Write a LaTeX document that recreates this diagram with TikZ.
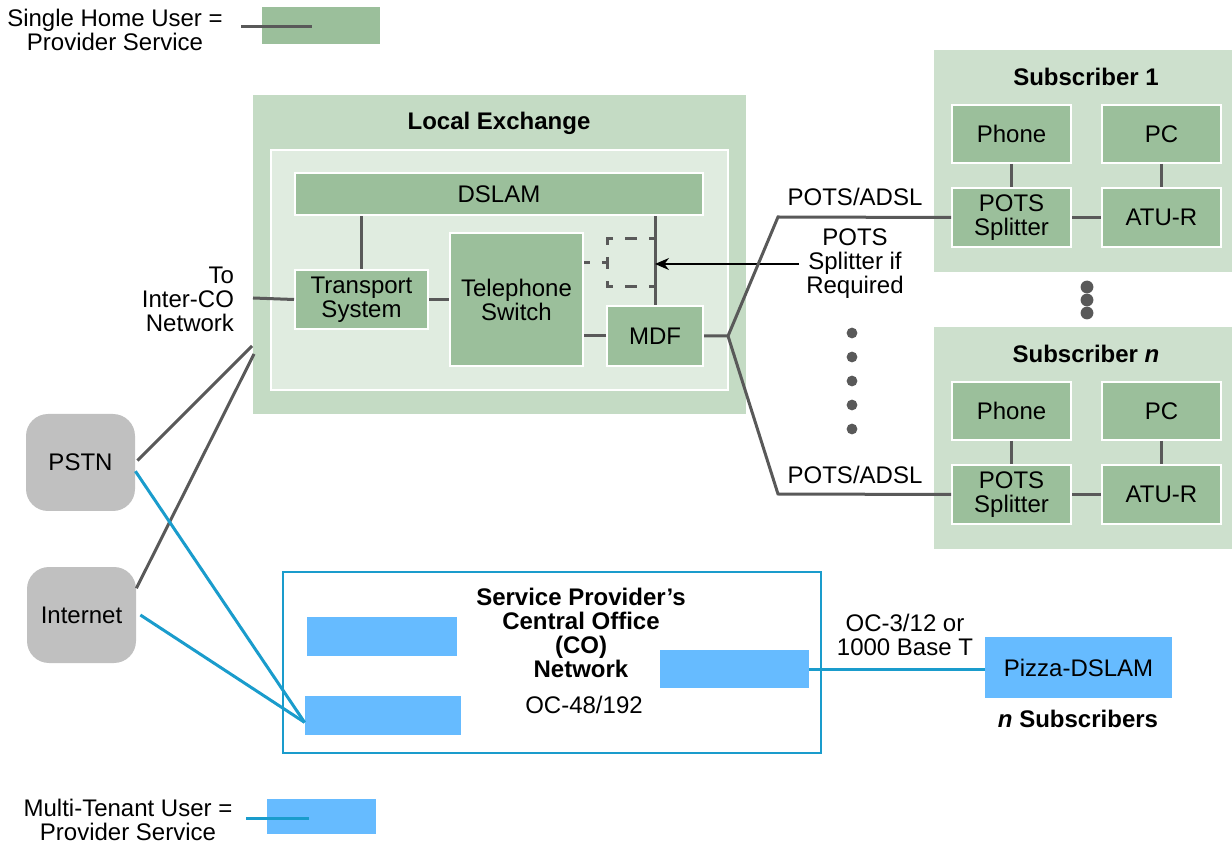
\documentclass[tikz,border=0pt]{standalone}
\usepackage{fontspec}
\setmainfont{Liberation Sans}
\usetikzlibrary{arrows.meta,positioning}
\definecolor{exchgreen}{HTML}{C4DBC4}
\definecolor{innergreen}{HTML}{E0ECE0}
\definecolor{subgreen}{HTML}{CDE0CD}
\definecolor{boxgreen}{HTML}{9BBF9B}
\definecolor{wiregray}{HTML}{595959}
\definecolor{cloudgray}{HTML}{C0C0C0}
\definecolor{coblue}{HTML}{1A9CCC}
\definecolor{fillblue}{HTML}{66BBFF}

\begin{document}
\begin{tikzpicture}[x=0.5pt, y=-0.5pt, font=\fontsize{12}{12}\selectfont,
  wh/.style 2 args={minimum width=#1*0.5pt, minimum height=#2*0.5pt},
  box/.style={draw=white, line width=1pt, fill=boxgreen, inner sep=0pt, align=center},
  bluebox/.style={fill=fillblue, inner sep=0pt, align=center},
  cloud/.style={fill=cloudgray, rounded corners=11pt, inner sep=0pt},
  wire/.style={draw=wiregray, line width=1.5pt},
  bluewire/.style={draw=coblue, line width=1.5pt},
  title/.style={font=\fontsize{12}{12}\selectfont\bfseries, align=center},
  dot/.style={fill=wiregray}]
  \useasboundingbox (0,0) rectangle (1232,844);

  % legends
  \node[align=center] (leghome) at (115,30) {Single Home User =\\Provider Service};
  \node[fill=boxgreen, wh={118}{37}] (leggreen) at (321,25.5) {};
  \coordinate (legA) at (241,27);
  \coordinate (legB) at (312,27);
  \draw[wire] (legA) -- (legB);

  \node[align=center] (legmulti) at (128,820) {Multi-Tenant User =\\Provider Service};
  \node[bluebox, wh={109}{35}] (legblue) at (321.5,816.5) {};
  \coordinate (legC) at (246,818);
  \coordinate (legD) at (309,818);
  \draw[bluewire] (legC) -- (legD);

  % local exchange
  \node[fill=exchgreen, wh={493}{319}] (exch) at (499.5,254.5) {};
  \node[title] (exchtitle) at (499,123) {Local Exchange};
  \node[fill=innergreen, draw=white, line width=1pt, wh={457}{240}] (inner) at (499.5,270) {};
  \node[box, wh={408}{42}] (dslam) at (499,194) {DSLAM};
  \node[box, wh={133}{59}] (trans) at (361.5,299.5) {Transport\\System};
  \node[box, wh={133}{133}] (switch) at (516.5,299.5) {Telephone\\Switch};
  \node[box, wh={96}{60}] (mdf) at (655,336) {MDF};

  \draw[wire] (trans.north) -- (trans.north |- dslam.south);
  \draw[wire] (trans.east) -- (trans.east -| switch.west);
  \draw[wire] (mdf.west) -- (mdf.west -| switch.east);
  \draw[wire] (mdf.north) -- (mdf.north |- dslam.south);

  % optional splitter
  \coordinate (spA) at (655,239);
  \coordinate (spB) at (607,239);
  \coordinate (spC) at (607,287);
  \coordinate (spD) at (655,287);
  \draw[wire, dash pattern=on 6pt off 6pt, dash phase=3pt] (spA) -- (spB) -- (spC) -- (spD);
  \draw[wire, dash pattern=on 3pt off 6pt] (switch.east |- 0,263) -- (spB |- 0,263);
  \node[align=center] (splnote) at (855,264) {POTS\\Splitter if\\Required};
  \draw[-{Stealth[length=7pt,width=6pt]}, line width=0.8pt] (splnote.west) -- (splnote.west -| mdf.north);

  \node[align=right, anchor=east] (interco) at (241,299) {To\\Inter-CO\\Network};
  \coordinate (intercoend) at (253,298);
  \draw[wire] (intercoend) -- (trans.west);

  % subscribers
  \foreach \s/\dy/\lbl in {1/0/1, n/277/\textit{n}} {
    \begin{scope}[shift={(0,\dy)}]
      \node[fill=subgreen, wh={298}{222}] (sub\s) at (1083,161) {};
      \node[title] (subtitle\s) at (1086,77) {Subscriber \lbl};
      \node[box, wh={119}{58}] (phone\s) at (1011.5,134) {Phone};
      \node[box, wh={119}{58}] (pc\s) at (1161.5,134) {PC};
      \node[box, wh={119}{59}] (split\s) at (1011.5,217.5) {POTS\\Splitter};
      \node[box, wh={119}{59}] (atu\s) at (1161.5,217.5) {ATU-R};
      \draw[wire] (phone\s.south) -- (split\s.north);
      \draw[wire] (pc\s.south) -- (atu\s.north);
      \draw[wire] (split\s.east) -- (atu\s.west);
    \end{scope}
  }
  \foreach \y in {287,300,313} \fill[dot] (1087,\y) circle (3.2pt);

  % MDF to subscribers
  \coordinate (fork) at (728,336);
  \coordinate (bend1) at (778,217);
  \coordinate (bend2) at (778,494);
  \draw[wire] (mdf.east) -- (fork) -- (bend1) -- (split1.west);
  \draw[wire] (fork) -- (bend2) -- (splitn.west);
  \node (adsl1) at (855,197) {POTS/ADSL};
  \node (adsl2) at (855,475) {POTS/ADSL};
  \foreach \y in {333,357,...,429} \fill[dot] (852,\y) circle (2.7pt);

  % PSTN and Internet
  \node[cloud, wh={109}{97}] (pstn) at (80.5,462.5) {PSTN};
  \node[cloud, wh={109}{96}] (inet) at (81.5,615) {Internet};
  \coordinate (pstnend) at (252,346);
  \coordinate (inetend) at (254,354);
  \draw[wire] ([xshift=1pt]pstn.2) -- (pstnend);
  \draw[wire] (inet.26) -- (inetend);

  % service provider's CO
  \node[draw=coblue, line width=1pt, fill=white, wh={538}{181}] (co) at (552,662.5) {};
  \node[bluebox, wh={150}{39}] (co1) at (382,636.5) {};
  \node[bluebox, wh={156}{39}] (co2) at (383,715.5) {};
  \node[bluebox, wh={149}{38}] (co3) at (734.5,669) {};
  \node[title] (cotitle) at (581,633) {Service Provider’s\\Central Office\\(CO)\\Network};
  \node (oc48) at (584,705) {OC-48/192};
  \draw[bluewire] (pstn.-9) -- (co2.185);
  \draw[bluewire] ([xshift=2pt]inet.east) -- (co2.185);

  \node[bluebox, wh={187}{61}] (pizza) at (1078.5,667.5) {Pizza-DSLAM};
  \draw[bluewire] (co3.east) -- (co3.east -| pizza.west);
  \node[align=center] (oc3) at (905,635) {OC-3/12 or\\1000 Base T};
  \node[title] (nsubs) at (1078,719) {\textit{n} Subscribers};
\end{tikzpicture}
\end{document}
